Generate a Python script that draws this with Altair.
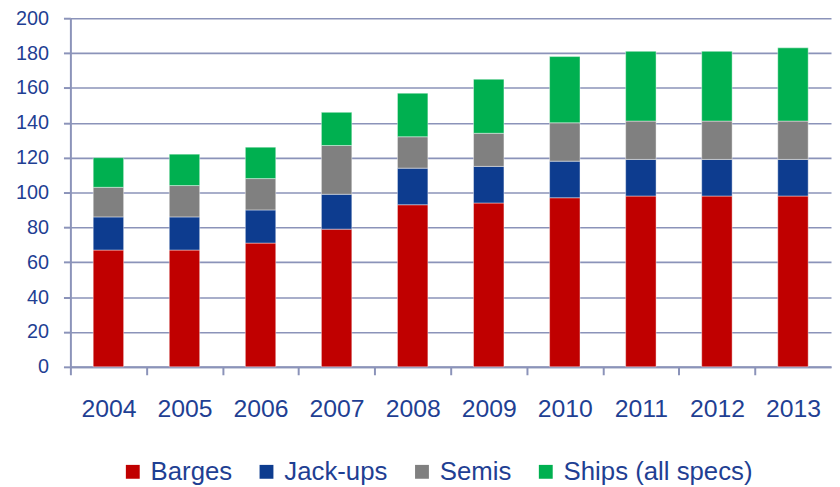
import altair as alt
import pandas as pd

years = ["2004", "2005", "2006", "2007", "2008", "2009", "2010", "2011", "2012", "2013"]
series = ["Barges", "Jack-ups", "Semis", "Ships (all specs)"]
barges = [67, 67, 71, 79, 93, 94, 97, 98, 98, 98]
jackups = [19, 19, 19, 20, 21, 21, 21, 21, 21, 21]
semis = [17, 18, 18, 28, 18, 19, 22, 22, 22, 22]
ships = [17, 18, 18, 19, 25, 31, 38, 40, 40, 42]
colors = ["#C00000", "#0D3C8F", "#808080", "#00B050"]

rows = []
for si, (name, vals) in enumerate(zip(series, [barges, jackups, semis, ships])):
    for y, v in zip(years, vals):
        rows.append({"year": y, "series": name, "value": v, "order": si})
df = pd.DataFrame(rows)

AXIS_COLOR = "#8B93B9"
TEXT_COLOR = "#1F3F93"
FONT = "Liberation Sans"

W = 768
STEP = W / len(years)
PAD_INNER = 0.6
HALF_GAP = PAD_INNER * STEP / 2

chart = alt.Chart(df).mark_bar(stroke="white", strokeWidth=0.6, strokeOpacity=0.7).encode(
    x=alt.X("year:N", sort=years, title=None,
            scale=alt.Scale(paddingInner=PAD_INNER, paddingOuter=PAD_INNER / 2),
            axis=alt.Axis(labelAngle=0, labelFontSize=25, labelColor=TEXT_COLOR, labelFont=FONT,
                          labelPadding=22, tickSize=8, tickColor=AXIS_COLOR, tickWidth=2,
                          domainColor=AXIS_COLOR, domainWidth=2, bandPosition=0,
                          tickOffset=-HALF_GAP, labelOffset=HALF_GAP, grid=False)),
    y=alt.Y("value:Q", title=None, stack="zero",
            scale=alt.Scale(domain=[0, 200], nice=False),
            axis=alt.Axis(values=list(range(0, 201, 20)), labelFontSize=20, labelColor=TEXT_COLOR,
                          labelFont=FONT, labelPadding=15, tickSize=7, tickColor=AXIS_COLOR, tickWidth=2,
                          domainColor=AXIS_COLOR, domainWidth=2, grid=True, gridColor=AXIS_COLOR,
                          gridWidth=1.6, gridOpacity=1)),
    color=alt.Color("series:N", sort=series,
                    scale=alt.Scale(domain=series, range=colors),
                    legend=alt.Legend(title=None, orient="none", direction="horizontal",
                                      legendX=50, legendY=445, symbolType="square", symbolSize=196,
                                      symbolStrokeWidth=0, labelFontSize=26, labelColor=TEXT_COLOR,
                                      labelFont=FONT, labelOffset=5, columnPadding=21,
                                      labelLimit=400)),
    order=alt.Order("order:Q", sort="ascending"),
).properties(
    width=W, height=352,
    autosize=alt.AutoSizeParams(type="none"),
    padding={"left": 63, "top": 8, "right": 1, "bottom": 119},
).configure_view(stroke=None).configure_legend(symbolLimit=0)

chart.save("out.html", embed_options={"renderer": "svg", "actions": False})
